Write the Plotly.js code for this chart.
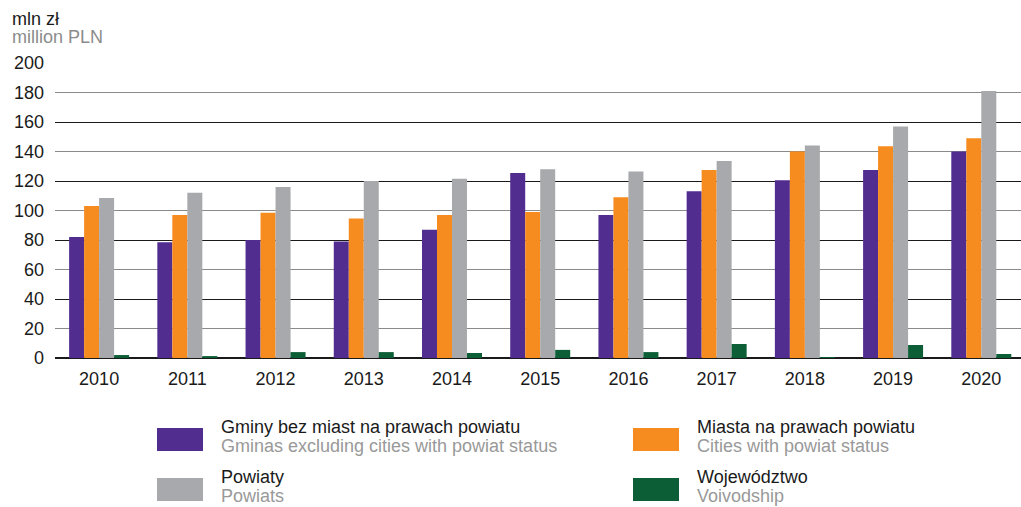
<!DOCTYPE html>
<html>
<head>
<meta charset="utf-8">
<script src="https://cdn.plot.ly/plotly-3.0.1.min.js"></script>
<style>html,body{margin:0;padding:0;background:#fff}#chart{width:1021px;height:507px}</style>
</head>
<body>
<div id="chart"></div>
<script>
const years = ['2010','2011','2012','2013','2014','2015','2016','2017','2018','2019','2020'];
const gminy = [82, 78.5, 80, 79, 87, 125.5, 97, 113, 120.5, 127.5, 140];
const miasta = [103, 97, 98.5, 94.5, 97, 99, 109, 127.5, 140, 143.5, 149];
const powiaty = [108.5, 112, 116, 120, 121.5, 128, 126.5, 133.5, 144, 157, 181];
const wojewodztwo = [2, 1.3, 4, 4, 3.4, 5.5, 4, 9.5, 0.7, 8.8, 2.7];

const seriesNamesPL = ['Gminy bez miast na prawach powiatu', 'Miasta na prawach powiatu', 'Powiaty', 'Województwo'];
const seriesNamesEN = ['Gminas excluding cities with powiat status', 'Cities with powiat status', 'Powiats', 'Voivodship'];
const colors = ['#522D90', '#F68B1F', '#A7A9AC', '#0B5E35'];
const yTickLabels = ['0','20','40','60','80','100','120','140','160','180','200'];
const yTickValues = [0,20,40,60,80,100,120,140,160,180,200];

const FONT = '"Liberation Sans", Arial, sans-serif';
const allSeries = [gminy, miasta, powiaty, wojewodztwo];
const traces = allSeries.map((vals, i) => ({
  type: 'bar', x: years, y: vals, name: seriesNamesPL[i],
  marker: {color: colors[i]}, hoverinfo: 'x+y'
}));
// empty helper traces so the two grid-only overlay axes are drawn
traces.push({type: 'scatter', x: [], y: [], yaxis: 'y2', showlegend: false, hoverinfo: 'skip'});
traces.push({type: 'scatter', x: [], y: [], yaxis: 'y3', showlegend: false, hoverinfo: 'skip'});

// plot area geometry for paper-coordinate helpers
const L = 55, T = 63, W = 966, H = 295;
const px = x => (x - L) / W;
const py = y => (T + H - y) / H;

const annotations = [
  {text: 'mln zł', x: px(10), y: py(19), xanchor: 'left', yanchor: 'middle', font: {size: 18, color: '#1a1a1a'}},
  {text: 'million PLN', x: px(10), y: py(37), xanchor: 'left', yanchor: 'middle', font: {size: 18, color: '#8c8c8c'}}
];
const shapes = [];
const legendPos = [[157, 428], [633, 428], [157, 478], [633, 478]];
legendPos.forEach((p, i) => {
  shapes.push({type: 'rect', xref: 'paper', yref: 'paper', x0: px(p[0]), x1: px(p[0] + 46), y0: py(p[1]), y1: py(p[1] + 23), fillcolor: colors[i], line: {width: 0}});
  annotations.push({text: seriesNamesPL[i], x: px(p[0] + 62), y: py(p[1] - 1), xanchor: 'left', yanchor: 'middle', font: {size: 18, color: '#1a1a1a'}});
  annotations.push({text: seriesNamesEN[i], x: px(p[0] + 62), y: py(p[1] + 18), xanchor: 'left', yanchor: 'middle', font: {size: 18, color: '#999999'}});
});
annotations.forEach(a => { a.xref = 'paper'; a.yref = 'paper'; a.showarrow = false; });

const layout = {
  width: 1021, height: 507,
  margin: {l: L, r: 1021 - L - W, t: T, b: 507 - T - H, pad: 0},
  paper_bgcolor: '#fff', plot_bgcolor: '#fff',
  font: {family: FONT, size: 18, color: '#1a1a1a'},
  showlegend: false,
  barmode: 'group', bargap: 0.32, bargroupgap: 0,
  xaxis: {type: 'category', range: [-0.5, 10.45], showgrid: false, zeroline: false, showline: false,
          ticks: '', ticklabelstandoff: 8, tickfont: {size: 18, color: '#1a1a1a'}},
  yaxis: {range: [0, 200], tickvals: yTickValues, ticktext: yTickLabels, showgrid: false,
          zeroline: true, zerolinecolor: '#1a1a1a', zerolinewidth: 1.2, showline: false,
          ticks: '', ticklabelstandoff: 10, tickfont: {size: 18, color: '#1a1a1a'}},
  yaxis2: {overlaying: 'y', anchor: 'x', range: [0, 200], tick0: 0, dtick: 40, showgrid: true, gridcolor: '#1a1a1a', gridwidth: 1,
           zeroline: false, showticklabels: false, ticks: ''},
  yaxis3: {overlaying: 'y', anchor: 'x', range: [0, 200], tick0: 20, dtick: 40, showgrid: true, gridcolor: '#8a8a8a', gridwidth: 1.6,
           zeroline: false, showticklabels: false, ticks: ''},
  annotations: annotations,
  shapes: shapes
};

Plotly.newPlot('chart', traces, layout, {displayModeBar: false, staticPlot: true});
</script>
</body>
</html>
